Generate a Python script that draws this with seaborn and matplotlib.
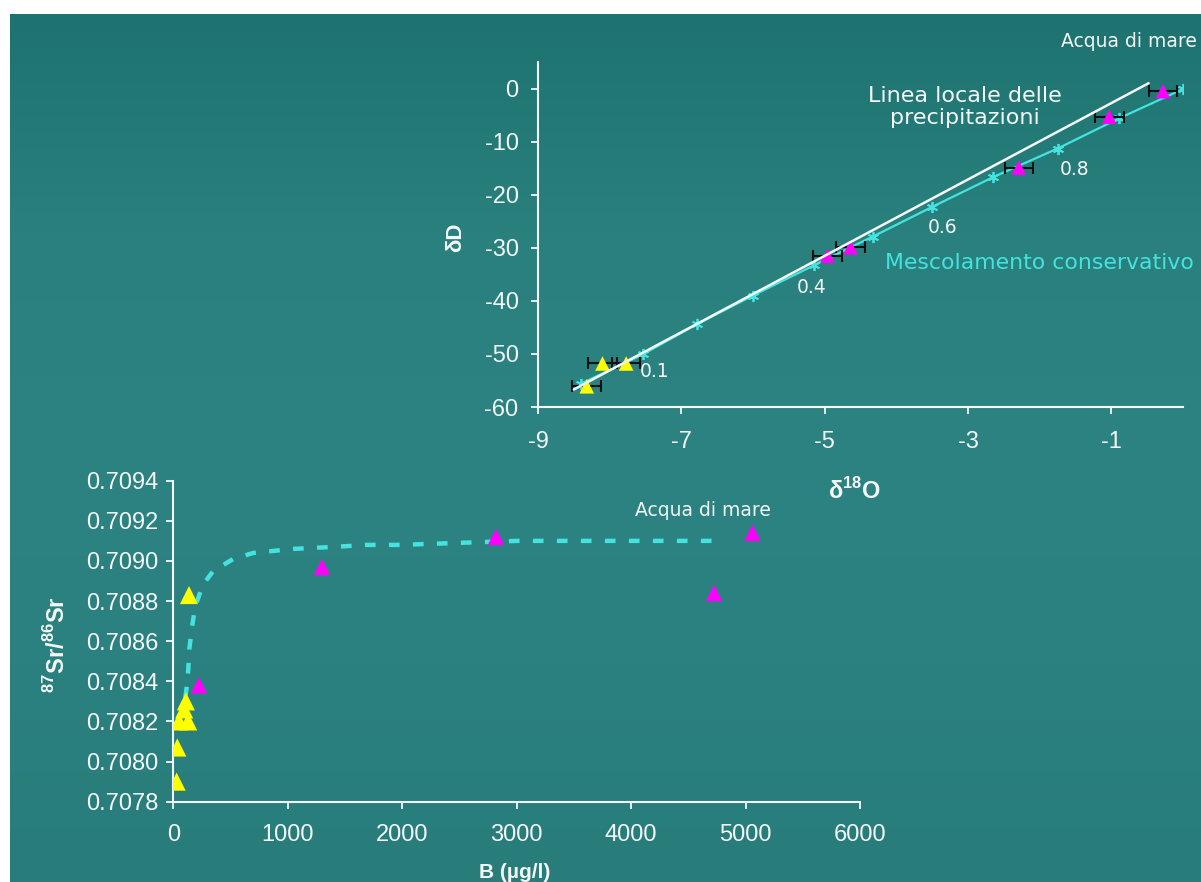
import numpy as np
import pandas as pd
import matplotlib
matplotlib.use("Agg")
import matplotlib.pyplot as plt
import seaborn as sns
from matplotlib.colors import LinearSegmentedColormap

# ---------------- δ18O – δD diagram ----------------
# Local meteoric water line (end points)
lmwl_d18o = [-8.50, -0.48]
lmwl_dD = [-56.7, 1.0]

# Conservative mixing line, fresh water -> sea water (steps of 0.1)
mix_d18o = [-8.40, -7.54, -6.78, -6.00, -5.15, -4.33, -3.50, -2.65, -1.75, -0.89, 0.0]
mix_dD = [-55.6, -50.1, -44.4, -39.0, -33.3, -27.9, -22.3, -16.7, -11.3, -5.6, -0.1]
mix_labels = ["0.1", "0.4", "0.6", "0.8"]
mix_label_pos = [(-7.58, -53.4), (-5.39, -37.4), (-3.56, -26.2), (-1.72, -15.3)]

# Sampled waters
fresh_d18o = [-8.10, -7.77, -8.32]
fresh_dD = [-51.8, -51.8, -56.1]
saline_d18o = [-0.28, -1.03, -2.29, -4.64, -4.96]
saline_dD = [-0.5, -5.3, -14.9, -29.9, -31.5]
d18o_err = 0.2

# ---------------- B – 87Sr/86Sr diagram ----------------
b_fresh = [29, 35, 50, 130, 95, 110, 137]
sr_fresh = [0.70790, 0.70807, 0.70820, 0.70820, 0.70826, 0.70830, 0.70883]
b_saline = [224, 1299, 2819, 4725, 5060]
sr_saline = [0.70838, 0.70897, 0.70912, 0.70884, 0.70914]

# Mixing curve
curve_b = [105, 117, 131, 140, 161, 190, 257, 349, 524, 699, 1048, 1397, 1689, 1980, 3000, 4714]
curve_sr = [0.70832, 0.70837, 0.70846, 0.70856, 0.70866, 0.70877, 0.70888, 0.70895,
            0.70901, 0.70904, 0.70906, 0.70907, 0.70908, 0.70908, 0.70910, 0.70910]

# ---------------- style ----------------
sns.set_style("ticks")
plt.rcParams["font.family"] = ["Liberation Sans", "DejaVu Sans"]
plt.rcParams["axes.unicode_minus"] = False
plt.rcParams["mathtext.fontset"] = "custom"
plt.rcParams["mathtext.rm"] = "Liberation Sans"
plt.rcParams["mathtext.bf"] = "Liberation Sans:bold"

WHITE = "#f4f8f8"
CYAN = "#44e3e0"
MAGENTA = "#ff00ff"
YELLOW = "#ffff00"
ANNOT = "DejaVu Sans"

fig = plt.figure(figsize=(12.01, 8.82), dpi=100, facecolor="white")

# Slide background
bg = fig.add_axes([10 / 1201, 0, 1191 / 1201, 868 / 882], zorder=-10)
bg_cmap = LinearSegmentedColormap.from_list(
    "teal", ["#1e7370", "#29807d", "#2c8381", "#2b817f", "#287d7b"])
grad = np.linspace(0, 1, 256).reshape(-1, 1)
bg.imshow(grad, aspect="auto", cmap=bg_cmap, extent=[0, 1, 0, 1], origin="upper")
bg.set_axis_off()


def style_axes(ax, fs, xpad, ypad):
    sns.despine(ax=ax)
    for side in ("left", "bottom"):
        ax.spines[side].set_color(WHITE)
        ax.spines[side].set_linewidth(1.5)
    ax.set_facecolor("none")
    ax.tick_params(colors=WHITE, labelcolor=WHITE, labelsize=fs, width=1.3, length=5)
    ax.tick_params(axis="x", pad=xpad)
    ax.tick_params(axis="y", pad=ypad)


# ---------- upper panel ----------
ax1 = fig.add_axes([538 / 1201, 1 - 407 / 882, 645 / 1201, 345 / 882])
style_axes(ax1, 17, 12, 9)

sns.lineplot(x=mix_d18o, y=mix_dD, ax=ax1, color=CYAN, lw=1.6, sort=False,
             marker=(6, 2, 0), markersize=8, markeredgecolor=CYAN,
             markeredgewidth=1.3, zorder=2)
ax1.errorbar(fresh_d18o + saline_d18o, fresh_dD + saline_dD, xerr=d18o_err,
             fmt="none", ecolor="#111111", elinewidth=1.5, capsize=4.5,
             capthick=1.5, zorder=3)
sns.scatterplot(x=saline_d18o, y=saline_dD, ax=ax1, marker="^", s=110,
                color=MAGENTA, edgecolor="none", zorder=4)
sns.scatterplot(x=fresh_d18o, y=fresh_dD, ax=ax1, marker="^", s=110,
                color=YELLOW, edgecolor="none", zorder=4)
sns.lineplot(x=lmwl_d18o, y=lmwl_dD, ax=ax1, color=WHITE, lw=1.8, sort=False,
             zorder=5)

ax1.set_xlim(-9, 0)
ax1.set_ylim(-60, 5)
ax1.set_xticks([-9, -7, -5, -3, -1])
ax1.set_yticks(np.arange(-60, 1, 10))
ax1.set_xlabel(r"δ$^{\mathbf{18}}$O", color=WHITE, fontsize=17, fontweight="bold")
ax1.set_ylabel("δD", color=WHITE, fontsize=16, fontweight="bold")
ax1.xaxis.set_label_coords(0.491, -0.205)
ax1.yaxis.set_label_coords(-0.112, 0.493)

for lab, (lx, ly) in zip(mix_labels, mix_label_pos):
    ax1.text(lx, ly, lab, color=WHITE, fontsize=13.5, family=ANNOT,
             ha="left", va="center", zorder=6)
ax1.text(-3.04, -3.5, "Linea locale delle\nprecipitazioni", color=WHITE,
         fontsize=16, family=ANNOT, ha="center", va="center",
         linespacing=1.12, zorder=6)
ax1.text(-4.16, -32.8, "Mescolamento conservativo", color=CYAN, fontsize=15.8,
         family=ANNOT, ha="left", va="center", zorder=6)
ax1.text(0.19, 8.9, "Acqua di mare", color=WHITE, fontsize=13.5, family=ANNOT,
         ha="right", va="center", clip_on=False, zorder=6)

# ---------- lower panel ----------
ax2 = fig.add_axes([173.3 / 1201, 1 - 801.7 / 882, 686.7 / 1201, 321 / 882])
style_axes(ax2, 17, 11, 6)

sns.lineplot(x=curve_b, y=curve_sr, ax=ax2, color=CYAN, lw=3.2, sort=False,
             linestyle=(0, (2.4, 3.0)), dash_capstyle="butt", zorder=2)
sns.scatterplot(x=b_fresh, y=sr_fresh, ax=ax2, marker="^", s=170,
                color=YELLOW, edgecolor="none", zorder=3)
sns.scatterplot(x=b_saline, y=sr_saline, ax=ax2, marker="^", s=140,
                color=MAGENTA, edgecolor="none", zorder=3)

ax2.set_xlim(0, 6000)
ax2.set_ylim(0.7078, 0.7094)
ax2.set_xticks(np.arange(0, 6001, 1000))
ax2.set_yticks(np.arange(0.7078, 0.70941, 0.0002))
ax2.yaxis.set_major_formatter(matplotlib.ticker.FormatStrFormatter("%.4f"))
ax2.set_xlabel("B (µg/l)", color=WHITE, fontsize=15, fontweight="bold")
ax2.set_ylabel(r"$^{\mathbf{87}}$Sr/$^{\mathbf{86}}$Sr", color=WHITE,
               fontsize=17, fontweight="bold")
ax2.xaxis.set_label_coords(0.4976, -0.19)
ax2.yaxis.set_label_coords(-0.150, 0.488)
ax2.text(4628, 0.709249, "Acqua di mare", color=WHITE, fontsize=13.5,
         family=ANNOT, ha="center", va="center", zorder=6)

fig.savefig("out.png", dpi=100, facecolor=fig.get_facecolor())
